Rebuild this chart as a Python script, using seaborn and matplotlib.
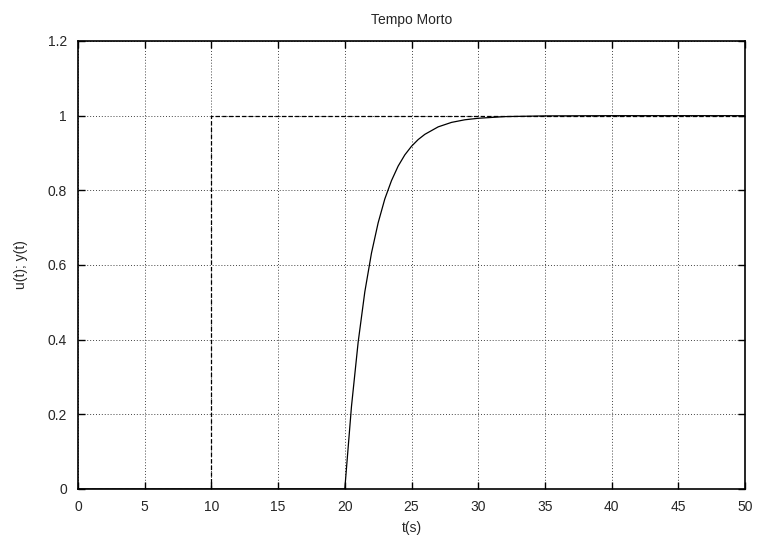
import pandas as pd
import matplotlib
matplotlib.use('Agg')
import matplotlib.pyplot as plt
import seaborn as sns
from matplotlib.ticker import FormatStrFormatter

# Input step u(t) (dashed)
u_t = [0, 10, 10, 50]
u_val = [0, 0, 1, 1]

# Output y(t) (solid)
y_t = [0, 20, 20.5, 21, 21.5, 22, 22.5, 23, 23.5, 24, 24.5, 25, 25.5, 26,
       27, 28, 29, 30, 32, 35, 40, 50]
y_val = [0, 0, 0.221, 0.393, 0.528, 0.632, 0.713, 0.777, 0.826, 0.865, 0.895,
         0.918, 0.936, 0.950, 0.970, 0.982, 0.989, 0.993, 0.9975, 0.9994, 1.0, 1.0]

sns.set_style('ticks')
plt.rcParams['font.family'] = ['Liberation Sans', 'DejaVu Sans']

fig = plt.figure(figsize=(7.58, 5.38), dpi=100)
ax = fig.add_axes([78 / 758, 1 - 489 / 538, (745 - 78) / 758, (489 - 41) / 538])

u_df = pd.DataFrame({'t': u_t, 'u': u_val})
y_df = pd.DataFrame({'t': y_t, 'y': y_val})
sns.lineplot(data=u_df, x='t', y='u', ax=ax, color='black', lw=0.9,
             linestyle=(0, (3.5, 1.8)), sort=False, estimator=None)
sns.lineplot(data=y_df, x='t', y='y', ax=ax, color='black', lw=0.9,
             sort=False, estimator=None)

ax.set_xlim(0, 50)
ax.set_ylim(0, 1.2)
ax.set_xticks(range(0, 51, 5))
ax.set_yticks([0, 0.2, 0.4, 0.6, 0.8, 1.0, 1.2])
ax.yaxis.set_major_formatter(FormatStrFormatter('%g'))
ax.grid(True, color='#444444', linestyle=(0, (1, 2)), lw=0.7)
ax.tick_params(direction='in', length=5, width=1, top=True, right=True,
               labelsize=10, pad=8, color='black')
for s in ax.spines.values():
    s.set_color('black')
    s.set_linewidth(1.2)

ax.set_title('Tempo Morto', fontsize=10, pad=12)
ax.set_xlabel('t(s)', fontsize=10, labelpad=5)
ax.set_ylabel('u(t); y(t)', fontsize=10, labelpad=14)

fig.savefig('out.png', dpi=100)
